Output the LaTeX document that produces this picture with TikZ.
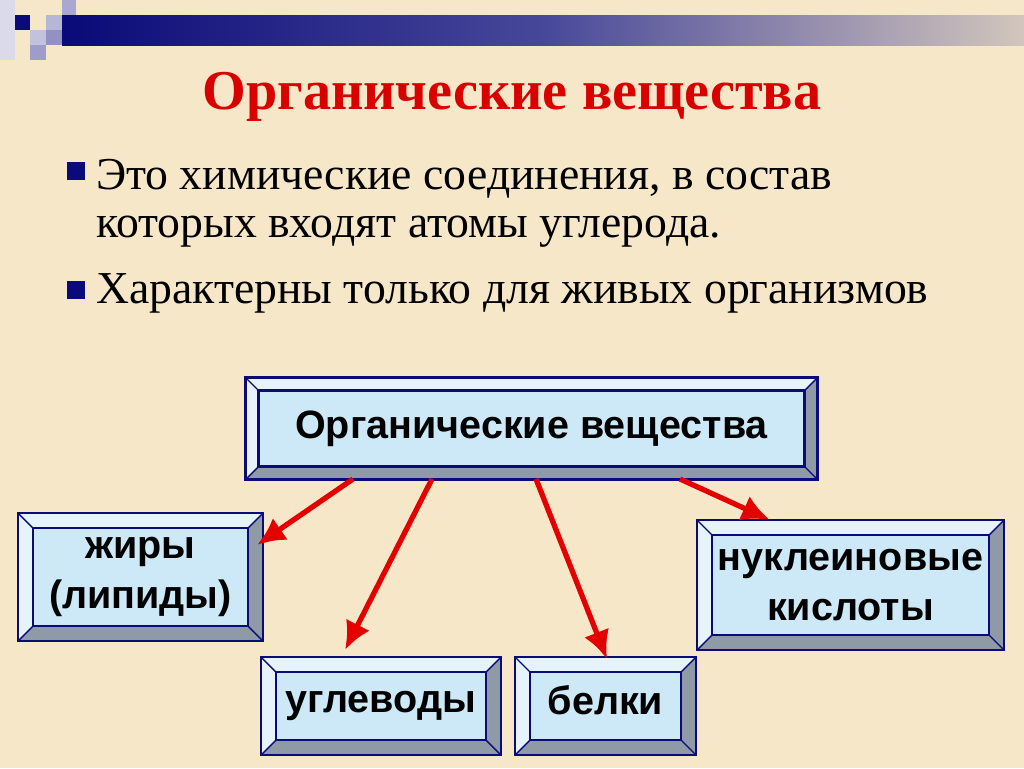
\documentclass[tikz,border=0pt]{standalone}
\usepackage{fontspec}
\setmainfont{Liberation Serif}
\setsansfont{Liberation Sans}
\usetikzlibrary{calc,positioning,arrows.meta}
\definecolor{bg}{HTML}{F6E7C9}
\definecolor{boxfill}{HTML}{CDE9F8}
\definecolor{navy}{HTML}{0A0A78}
\definecolor{lightside}{HTML}{E6F3FB}
\definecolor{darkside}{HTML}{8E9AA6}
\tikzset{
  panel/.style={draw=navy, line width=1.2pt, fill=boxfill, outer sep=0pt, inner sep=0pt},
  label/.style={font=\sffamily\bfseries\fontsize{22.5}{28}\selectfont, align=center, inner sep=0pt},
  link/.style={draw=red!90!black, line width=3pt, -{Latex[length=16pt,width=15pt]}},
  bullet/.style={fill=navy, minimum size=10pt, inner sep=0pt}
}
% bevelled frame around a named panel
\newcommand\bevel[2]{%
  \fill[lightside] ($(#1.north west)+(-#2,#2)$) -- ($(#1.north east)+(#2,#2)$) -- (#1.north east) -- (#1.north west) -- (#1.south west) -- ($(#1.south west)+(-#2,-#2)$) -- cycle;
  \fill[darkside] ($(#1.south west)+(-#2,-#2)$) -- ($(#1.south east)+(#2,-#2)$) -- ($(#1.north east)+(#2,#2)$) -- (#1.north east) -- (#1.south east) -- (#1.south west) -- cycle;
  \draw[navy, line width=1.2pt] ($(#1.north west)+(-#2,#2)$) rectangle ($(#1.south east)+(#2,-#2)$);
  \draw[navy, line width=1.2pt] (#1.north west) rectangle (#1.south east);
  \draw[navy, line width=0.8pt] ($(#1.north west)+(-#2,#2)$) -- (#1.north west)
    ($(#1.north east)+(#2,#2)$) -- (#1.north east)
    ($(#1.south west)+(-#2,-#2)$) -- (#1.south west)
    ($(#1.south east)+(#2,-#2)$) -- (#1.south east);
}
\begin{document}
\begin{tikzpicture}[x=0.02cm, y=-0.02cm]
\fill[bg] (0,0) rectangle (1024,768);
\useasboundingbox (0,0) rectangle (1024,768);
% top decoration
\shade[left color=navy, right color=navy!15!bg, middle color=navy!75] (62,15) rectangle (1024,45);
\fill[navy!35] (62,0) rectangle (76,15);
\fill[navy] (15,15) rectangle (30,30);
\fill[navy!30] (46,15) rectangle (62,30);
\fill[navy!45] (46,30) rectangle (62,45);
\fill[navy!25] (30,30) rectangle (46,45);
\fill[navy!40] (30,45) rectangle (46,60);
\fill[navy!15] (0,0) rectangle (15,60);

\node[text=red!85!black, font=\bfseries\fontsize{32}{38}\selectfont] (title) at (512,97) {Органические вещества};
\node[bullet] (b1) at (76,171) {};
\node[bullet] (b2) at (76,290) {};
\node[anchor=west, align=left, font=\fontsize{26}{27.5}\selectfont] (t1) at (90,203) {Это химические соединения, в состав\\которых входят атомы углерода.};
\node[anchor=west, font=\fontsize{26}{32}\selectfont] (t2) at (90,293) {Характерны только для живых организмов};

\node[panel, minimum width=546*0.02cm, minimum height=76*0.02cm] (main) at (531.5,428.5) {};
\bevel{main}{13*0.02cm}
\node[label] at (main) {Органические вещества};

\node[panel, minimum width=215*0.02cm, minimum height=98*0.02cm] (fats) at (140.5,577) {};
\bevel{fats}{15*0.02cm}
\node[label] at (fats) {жиры\\(липиды)};

\node[panel, minimum width=210*0.02cm, minimum height=68*0.02cm] (carb) at (381,706) {};
\bevel{carb}{15*0.02cm}
\node[label] at (carb) {углеводы};

\node[panel, minimum width=151*0.02cm, minimum height=68*0.02cm] (prot) at (605.5,706) {};
\bevel{prot}{15*0.02cm}
\node[label] at ($(prot)+(0,-6)$) {белки};

\node[panel, minimum width=277*0.02cm, minimum height=100*0.02cm] (nucl) at (850.5,585) {};
\bevel{nucl}{15*0.02cm}
\node[label] at (nucl) {нуклеиновые\\кислоты};

\coordinate (s1) at (353,479);
\coordinate (s2) at (432,479);
\coordinate (s3) at (536,479);
\coordinate (s4) at (680,479);
\coordinate (e1) at (257,545);
\coordinate (e2) at (345,650);
\coordinate (e3) at (607,659);
\coordinate (e4) at (770,520);
\foreach \i in {1,...,4}
  \draw[link] (s\i) -- (e\i);
\end{tikzpicture}
\end{document}
